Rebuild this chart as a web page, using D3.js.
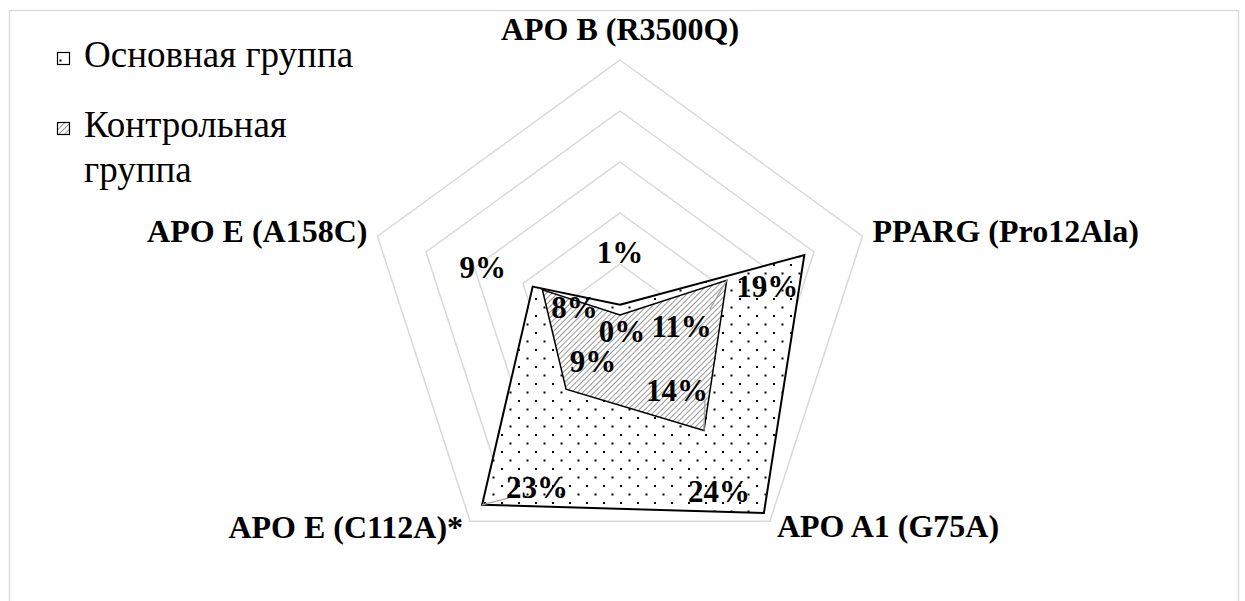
<!DOCTYPE html>
<html>
<head>
<meta charset="utf-8">
<script src="https://cdn.jsdelivr.net/npm/d3@7"></script>
<style>
  body { margin: 0; background: #fff; }
  svg { display: block; }
</style>
</head>
<body>
<svg id="chart" width="1245" height="601"></svg>
<script>
// Radar axes (one per gene polymorphism) and frequencies, %
const axes = ["APO B (R3500Q)", "PPARG (Pro12Ala)", "APO A1 (G75A)", "APO E (C112A)*", "APO E (A158C)"];
const mainGroup = [1, 19, 24, 23, 9];
const controlGroup = [0, 11, 14, 9, 8];
const gridLevels = [5, 10, 15, 20, 25];
const legendMain = ["Основная группа"];
const legendControl = ["Контрольная", "группа"];

// Label layout: offsets of each value label from its point
const mainLabelOffsets = [[0, -42], [-37, 42], [-45, -11], [55, -7], [-50, -9]];
const controlLabelOffsets = [[2, 27], [-45, 57], [-27, -30], [27, -17], [32, 28]];
const mainLeaders = [false, false, false, true, false];
const controlLeaders = [false, true, true, false, false];
// Axis title placement relative to the outer grid vertex
const axisTitleLayout = [
  { dx: 0, dy: -20, anchor: "middle" },
  { dx: 10, dy: 6, anchor: "start" },
  { dx: 7, dy: 16, anchor: "start" },
  { dx: -7, dy: 17, anchor: "end" },
  { dx: -10, dy: 6, anchor: "end" }
];

const FONT = '"Liberation Serif", "Times New Roman", serif';
const svg = d3.select("#chart");
const cx = 620, cy = 315;

const r = d3.scaleLinear().domain([0, 25]).range([0, 255]);
const angle = d3.scaleLinear().domain([0, axes.length]).range([0, 2 * Math.PI]);
const px = (v, i) => cx + r(v) * Math.sin(angle(i));
const py = (v, i) => cy - r(v) * Math.cos(angle(i));

const defs = svg.append("defs");
// staggered dot fill
const dots = defs.append("pattern")
  .attr("id", "dots").attr("patternUnits", "userSpaceOnUse")
  .attr("width", 17).attr("height", 17);
dots.append("rect").attr("width", 17).attr("height", 17).attr("fill", "#fff");
dots.append("rect").attr("x", 0).attr("y", 0).attr("width", 2).attr("height", 2).attr("fill", "#000");
dots.append("rect").attr("x", 8.5).attr("y", 8.5).attr("width", 2).attr("height", 2).attr("fill", "#000");

// upward diagonal hatch
const hatch = defs.append("pattern")
  .attr("id", "hatch").attr("patternUnits", "userSpaceOnUse")
  .attr("width", 4).attr("height", 4)
  .attr("patternTransform", "rotate(45)");
hatch.append("rect").attr("width", 4).attr("height", 4).attr("fill", "#fff");
hatch.append("line").attr("x1", 0).attr("y1", 0).attr("x2", 0).attr("y2", 4)
  .attr("stroke", "#8c8c8c").attr("stroke-width", 1.8);

// chart frame
svg.append("rect")
  .attr("x", 9.5).attr("y", 10.5).attr("width", 1229).attr("height", 620)
  .attr("fill", "#fff").attr("stroke", "#d9d9d9").attr("stroke-width", 1.3);

const g = svg.append("g").attr("transform", `translate(${cx},${cy})`);

const radial = d3.lineRadial()
  .angle((d, i) => angle(i))
  .radius(d => r(d))
  .curve(d3.curveLinearClosed);

// grid rings
g.selectAll("path.ring")
  .data(gridLevels)
  .join("path")
  .attr("class", "ring")
  .attr("d", lv => radial(axes.map(() => lv)))
  .attr("fill", "none")
  .attr("stroke", "#d9d9d9")
  .attr("stroke-width", 1.5);

// series polygons
g.append("path")
  .attr("d", radial(mainGroup))
  .attr("fill", "url(#dots)")
  .attr("stroke", "#000")
  .attr("stroke-width", 2)
  .attr("stroke-linejoin", "miter");

g.append("path")
  .attr("d", radial(controlGroup))
  .attr("fill", "url(#hatch)")
  .attr("stroke", "#000")
  .attr("stroke-width", 1.5)
  .attr("stroke-linejoin", "miter");

// value labels
function drawValues(values, offsets, leaders) {
  values.forEach((v, i) => {
    const x0 = px(v, i), y0 = py(v, i);
    const lx = x0 + offsets[i][0], ly = y0 + offsets[i][1];
    if (leaders[i]) {
      // leader from the point to the nearest label edge
      const ex = lx + (x0 > lx ? 28 : -28);
      const ey = ly - 10 + (y0 > ly ? 10 : -18);
      svg.append("line")
        .attr("x1", x0).attr("y1", y0).attr("x2", ex).attr("y2", ey)
        .attr("stroke", "#a6a6a6").attr("stroke-width", 1.3);
    }
    svg.append("text")
      .attr("x", lx).attr("y", ly)
      .attr("text-anchor", "middle")
      .style("font-family", FONT)
      .style("font-weight", "bold")
      .style("font-size", "31px")
      .attr("fill", "#000")
      .text(d3.format(".0%")(v / 100));
  });
}
drawValues(mainGroup, mainLabelOffsets, mainLeaders);
drawValues(controlGroup, controlLabelOffsets, controlLeaders);

// axis titles
axes.forEach((name, i) => {
  const lay = axisTitleLayout[i];
  svg.append("text")
    .attr("x", px(25, i) + lay.dx)
    .attr("y", py(25, i) + lay.dy)
    .attr("text-anchor", lay.anchor)
    .style("font-family", FONT)
    .style("font-weight", "bold")
    .style("font-size", "32px")
    .attr("fill", "#000")
    .text(name);
});

// legend
const legend = svg.append("g");
const entries = [
  { fill: "url(#dots)", lines: legendMain, y: 52 },
  { fill: "url(#hatch)", lines: legendControl, y: 122 }
];
entries.forEach(e => {
  legend.append("rect")
    .attr("x", 57.5).attr("y", e.y + 0.5).attr("width", 12).attr("height", 12)
    .attr("fill", e.fill).attr("stroke", "#000").attr("stroke-width", 1.2);
  const t = legend.append("text")
    .attr("x", 84).attr("y", e.y + 15)
    .style("font-family", FONT)
    .style("font-size", "37px")
    .attr("fill", "#000");
  e.lines.forEach((ln, k) => {
    t.append("tspan").attr("x", 84).attr("dy", k === 0 ? 0 : 45).text(ln);
  });
});
</script>
</body>
</html>
